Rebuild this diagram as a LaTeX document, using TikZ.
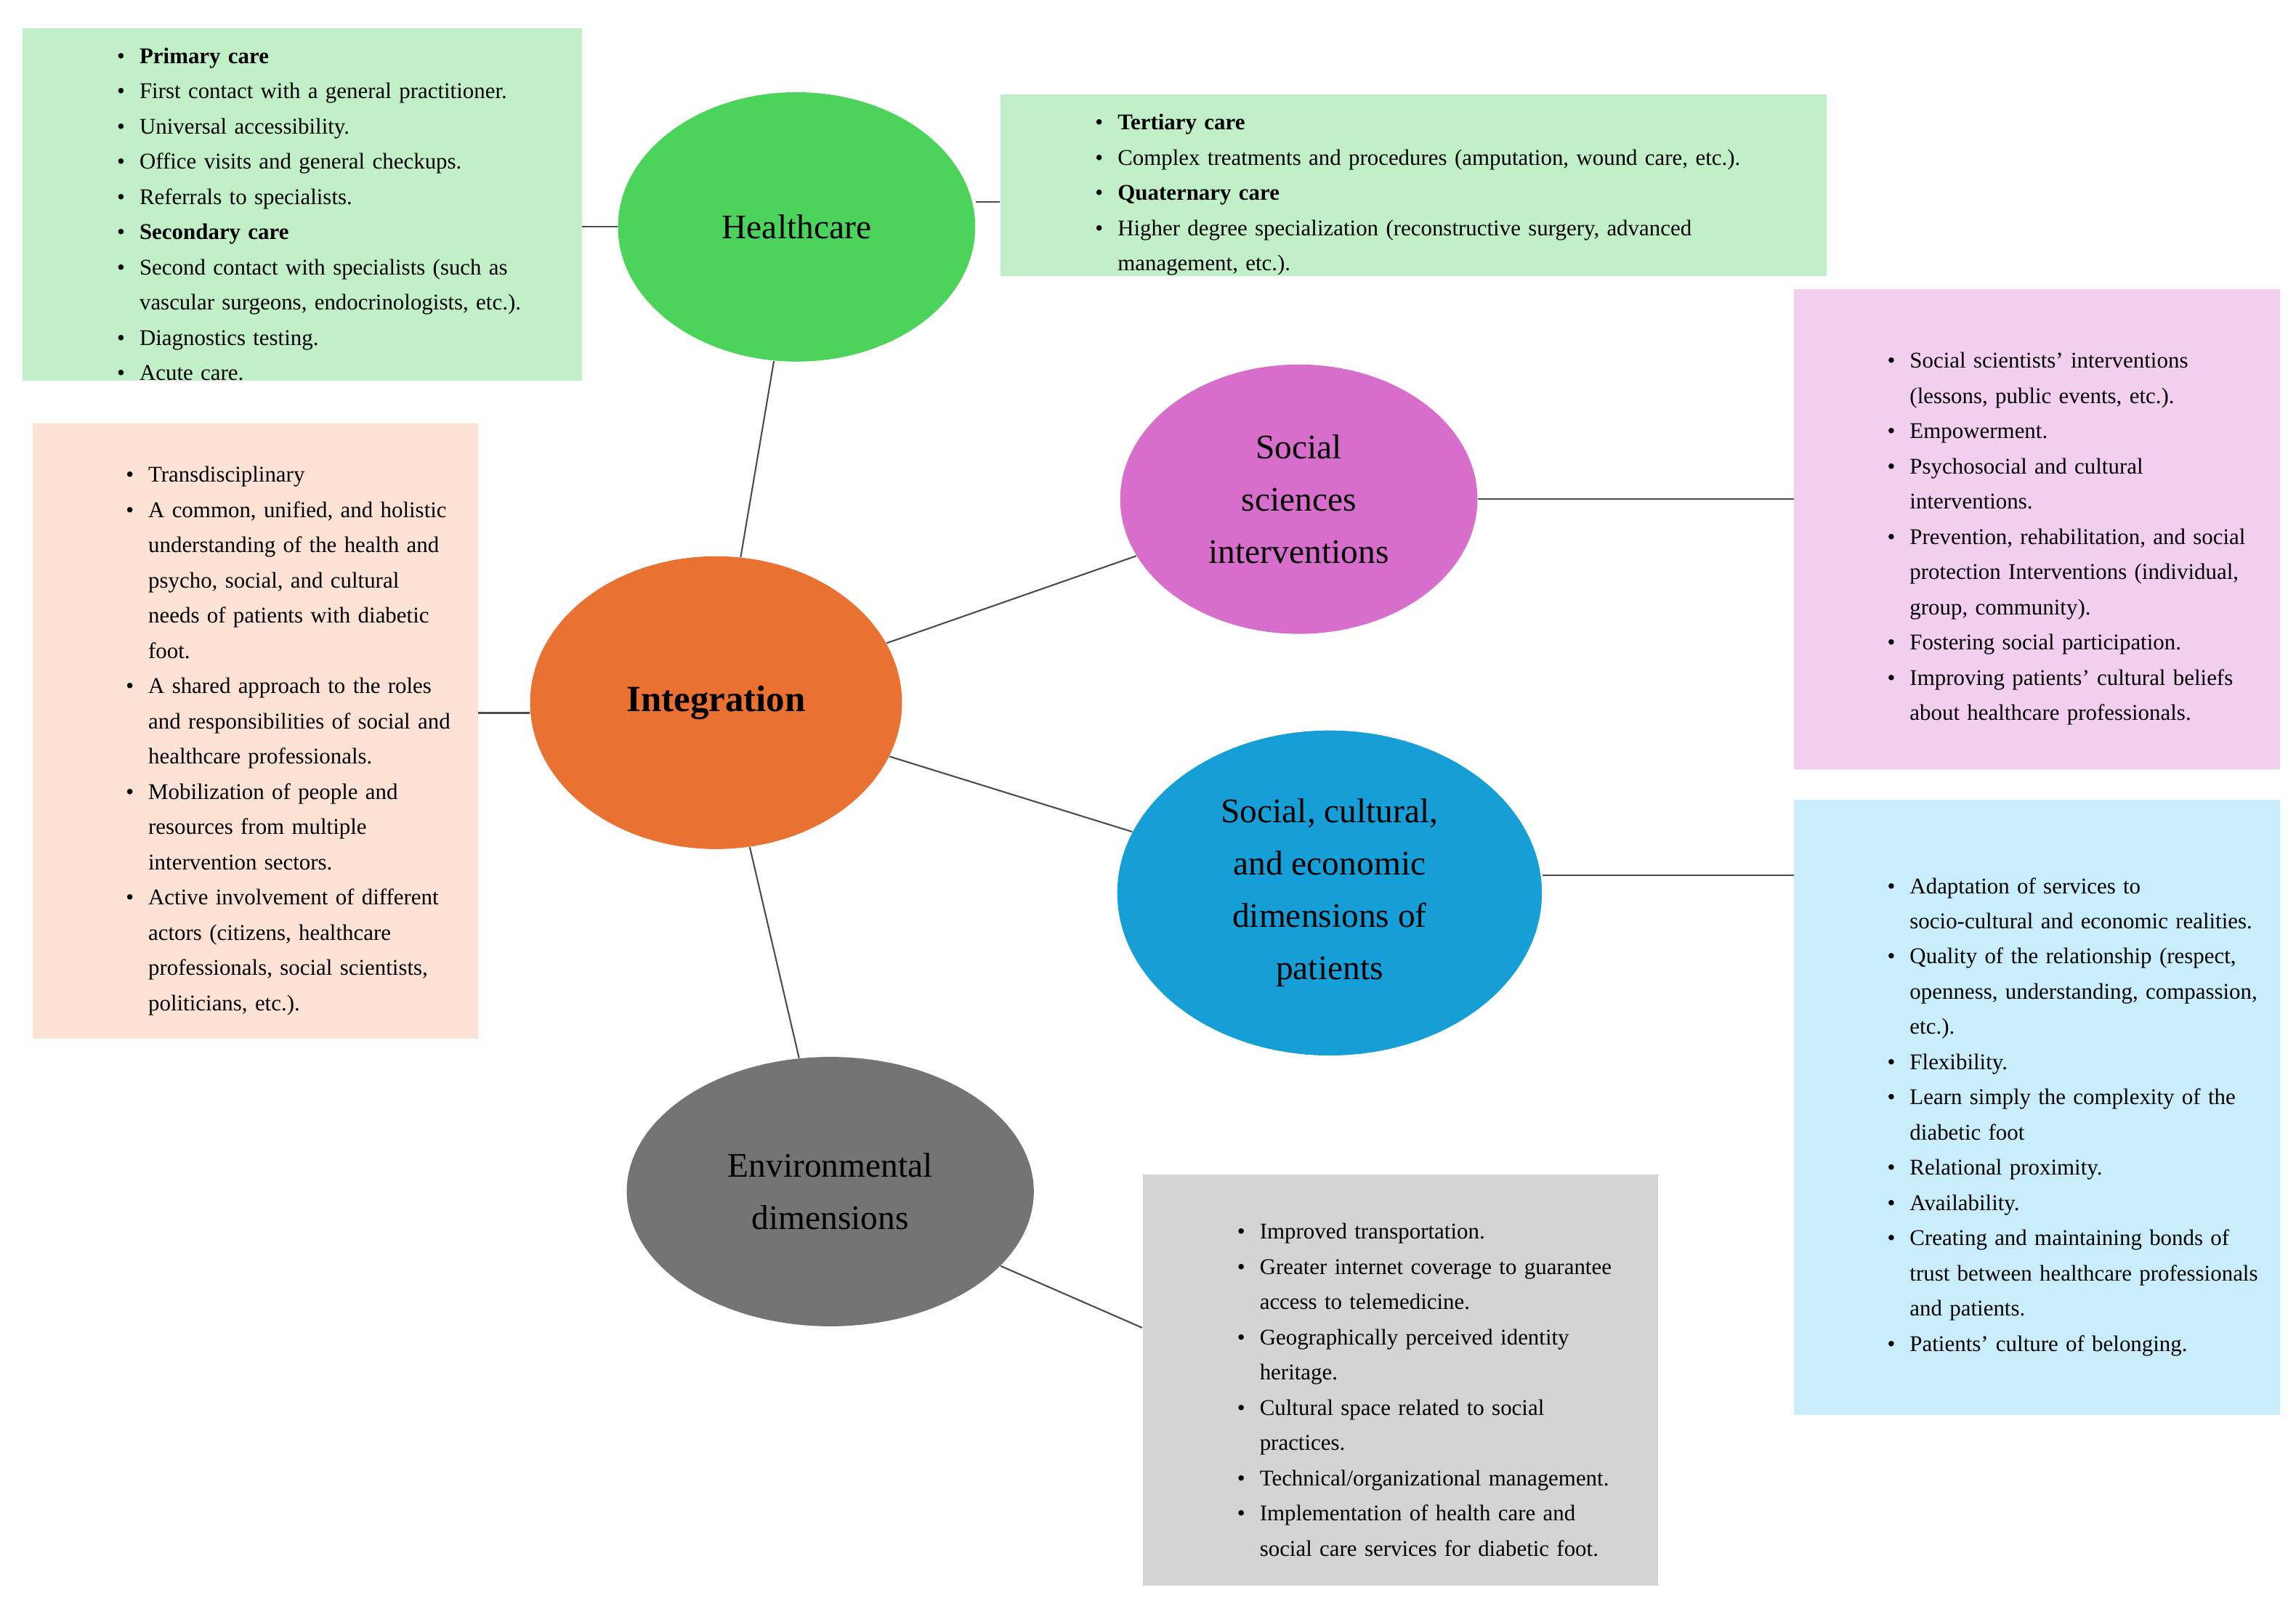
\documentclass[tikz,border=0pt]{standalone}
\usepackage{fontspec}
\setmainfont{Liberation Serif}
\usepackage{enumitem}
\setlist[itemize]{leftmargin=1.29cm,labelsep=0.2cm,itemsep=0pt,parsep=0pt,topsep=0pt,partopsep=0pt,label=\textbullet}
\definecolor{gbox}{HTML}{C1F0C8}\definecolor{gell}{HTML}{4BD35B}
\definecolor{pbox}{HTML}{F2CEEF}\definecolor{pell}{HTML}{D86ECC}
\definecolor{obox}{HTML}{FBE2D5}\definecolor{oell}{HTML}{E97132}
\definecolor{bbox}{HTML}{C9EDFA}\definecolor{bell}{HTML}{169FD6}
\definecolor{ybox}{HTML}{D4D4D4}\definecolor{yell}{HTML}{747474}
\usetikzlibrary{shapes.geometric}
\tikzset{
 ell/.style={ellipse,inner sep=0pt,align=center,font=\fontsize{13.5}{20.5}\selectfont},
 box/.style={rectangle,inner ysep=0pt,inner xsep=0.3cm,font=\fontsize{8.8}{13.8}\selectfont,anchor=north west},
 con/.style={draw=black!70,line width=0.6pt}
}
\begin{document}
\begin{tikzpicture}[x=0.02015cm,y=-0.02015cm]
\useasboundingbox (0,0) rectangle (1568,1097);
% boxes
\node[box,fill=gbox,minimum width=382*0.02015cm,minimum height=227*0.02015cm,text width=0.02015cm*(382-17)-0.3cm] (hl) at (15,19) {\begin{itemize}\raggedright
\item \textbf{Primary care}
\item First contact with a general practitioner.
\item Universal accessibility.
\item Office visits and general checkups.
\item Referrals to specialists.
\item \textbf{Secondary care}
\item Second contact with specialists (such as vascular surgeons, endocrinologists, etc.).
\item Diagnostics testing.
\item Acute care.
\end{itemize}};
\node[box,fill=gbox,minimum width=564*0.02015cm,minimum height=124*0.02015cm,text width=0.02015cm*(564-17)-0.3cm] (hr) at (683,64) {\begin{itemize}\raggedright
\item \textbf{Tertiary care}
\item Complex treatments and procedures (amputation, wound care, etc.).
\item \textbf{Quaternary care}
\item Higher degree specialization (reconstructive surgery, advanced management, etc.).
\end{itemize}};
\node[box,fill=pbox,minimum width=331*0.02015cm,minimum height=328*0.02015cm,text width=0.02015cm*(331-14)-0.3cm] (pb) at (1225,197) {\begin{itemize}
\item Social scientists' interventions (lessons, public events, etc.).
\item Empowerment.
\item Psychosocial and cultural interventions.
\item Prevention, rehabilitation, and social protection Interventions (individual, group, community).
\item Fostering social participation.
\item Improving patients' cultural beliefs about healthcare professionals.
\end{itemize}};
\node[box,fill=obox,minimum width=304*0.02015cm,minimum height=420*0.02015cm,text width=0.02015cm*(304-15)-0.3cm] (ob) at (22,289) {\begin{itemize}
\item Transdisciplinary
\item A common, unified, and holistic understanding of the health and psycho, social, and cultural needs of patients with diabetic foot.
\item A shared approach to the roles and responsibilities of social and healthcare professionals.
\item Mobilization of people and resources from multiple intervention sectors.
\item Active involvement of different actors (citizens, healthcare professionals, social scientists, politicians, etc.).
\end{itemize}};
\node[box,fill=bbox,minimum width=331*0.02015cm,minimum height=420*0.02015cm,text width=0.02015cm*(331-14)-0.3cm] (bb) at (1225,546) {\begin{itemize}
\item Adaptation of services to socio-cultural and economic realities.
\item Quality of the relationship (respect, openness, understanding, compassion, etc.).
\item Flexibility.
\item Learn simply the complexity of the diabetic foot
\item Relational proximity.
\item Availability.
\item Creating and maintaining bonds of trust between healthcare professionals and patients.
\item Patients' culture of belonging.
\end{itemize}};
\node[box,fill=ybox,minimum width=352*0.02015cm,minimum height=281*0.02015cm,text width=0.02015cm*(352-17)-0.3cm] (yb) at (780,802) {\begin{itemize}\raggedright
\item Improved transportation.
\item Greater internet coverage to guarantee access to telemedicine.
\item Geographically perceived identity heritage.
\item Cultural space related to social practices.
\item Technical/organizational management.
\item Implementation of health care and social care services for diabetic foot.
\end{itemize}};
% ellipses
\node[ell,fill=gell,minimum width=244*0.02015cm,minimum height=184*0.02015cm] (hc) at (544,155) {Healthcare};
\node[ell,fill=pell,minimum width=244*0.02015cm,minimum height=184*0.02015cm] (ss) at (887,341) {Social\\sciences\\interventions};
\node[ell,fill=oell,minimum width=254*0.02015cm,minimum height=200*0.02015cm,font=\fontsize{14.5}{20}\selectfont\bfseries] (in) at (489,480) {Integration};
\node[ell,fill=bell,minimum width=290*0.02015cm,minimum height=222*0.02015cm] (sc) at (908,610) {Social, cultural,\\and economic\\dimensions of\\patients};
\node[ell,fill=yell,minimum width=278*0.02015cm,minimum height=184*0.02015cm] (ev) at (567,814) {Environmental\\dimensions};
% connectors
\draw[con] (hc) -- (hc.west -| hl.east);
\draw[con] (hc.east |- 0,138) -- (hr.west |- 0,138);
\draw[con] (hc) -- (in);
\draw[con] (in) -- (ss);
\draw[con] (ss.east) -- (pb.west |- ss.east);
\draw[con] (in) -- (sc);
\draw[con] (sc.east |- 0,598) -- (bb.west |- 0,598);
\draw[con] (in) -- (ev);
\draw[con] (ev) -- (yb.west |- 0,907);
\draw[con] (in.west |- 0,487) -- (ob.east |- 0,487);
\end{tikzpicture}
\end{document}
